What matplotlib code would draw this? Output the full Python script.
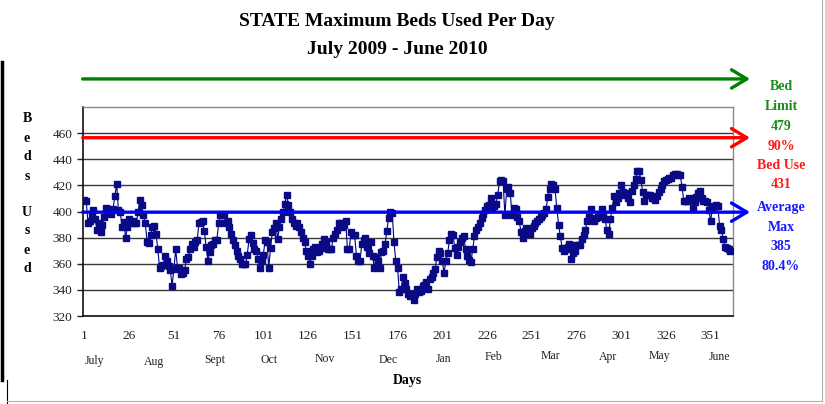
import matplotlib
matplotlib.use("Agg")
import matplotlib.pyplot as plt
import numpy as np

plt.rcParams['font.family'] = ['Liberation Serif', 'DejaVu Serif']

# max beds used, one value per day starting July 1 2009
beds_used = [
    409, 408, 391, 393, 398, 401, 394, 386, 391, 384,
    390, 396, 403, 402, 401, 398, 402, 412, 421, 401,
    400, 388, 392, 380, 388, 394, 391, 393, 391, 391,
    400, 409, 405, 397, 391, 377, 376, 382, 388, 389,
    383, 371, 357, 358, 359, 366, 362, 358, 355, 343,
    356, 371, 357, 357, 352, 353, 355, 364, 365, 371,
    375, 373, 377, 378, 391, 392, 393, 385, 373, 362,
    369, 374, 375, 378, 378, 391, 397, 397, 397, 391,
    393, 388, 383, 378, 374, 370, 366, 364, 360, 360,
    360, 367, 379, 382, 376, 371, 370, 364, 357, 362,
    367, 378, 377, 357, 372, 384, 387, 391, 379, 388,
    394, 400, 406, 413, 405, 400, 394, 391, 389, 391,
    388, 384, 380, 377, 370, 366, 360, 366, 371, 373,
    369, 370, 372, 375, 379, 377, 371, 371, 371, 380,
    383, 386, 391, 391, 388, 390, 393, 371, 371, 384,
    382, 382, 366, 362, 362, 375, 378, 380, 373, 368,
    377, 366, 357, 365, 362, 357, 369, 370, 375, 385,
    395, 400, 399, 377, 362, 357, 338, 341, 350, 345,
    341, 337, 335, 337, 332, 337, 341, 338, 339, 343,
    344, 346, 341, 348, 350, 353, 356, 365, 370, 368,
    362, 353, 362, 368, 378, 383, 382, 372, 367, 373,
    377, 380, 381, 371, 366, 363, 361, 371, 381, 386,
    388, 391, 395, 398, 401, 404, 405, 410, 403, 404,
    406, 413, 423, 424, 423, 397, 417, 419, 414, 397,
    403, 402, 396, 393, 384, 380, 385, 387, 386, 383,
    387, 389, 391, 393, 394, 396, 397, 399, 402, 411,
    417, 421, 420, 417, 403, 390, 381, 372, 370, 371,
    373, 375, 364, 368, 370, 374, 374, 374, 379, 382,
    386, 393, 396, 402, 394, 393, 395, 396, 397, 402,
    398, 394, 386, 383, 394, 403, 412, 407, 410, 414,
    420, 415, 413, 414, 410, 407, 416, 420, 425, 431,
    431, 424, 415, 408, 413, 413, 413, 410, 410, 409,
    412, 415, 417, 420, 423, 424, 425, 426, 426, 428,
    429, 429, 428, 428, 419, 408, 408, 408, 410, 409,
    403, 407, 411, 414, 416, 410, 408, 408, 407, 401,
    393, 403, 404, 405, 404, 389, 386, 379, 373, 372,
    371, 370,
]
days = np.arange(1, len(beds_used) + 1)

day_ticks = list(range(1, 352, 25))
months = ['July', 'Aug', 'Sept', 'Oct', 'Nov', 'Dec',
          'Jan', 'Feb', 'Mar', 'Apr', 'May', 'June']
month_days = [6.8, 39.7, 73.6, 104, 135.3, 170.8,
              201.8, 229.8, 261.6, 293.5, 322.6, 356]
month_y = [-0.215, -0.22, -0.21, -0.21, -0.205, -0.21,
           -0.205, -0.195, -0.19, -0.195, -0.19, -0.195]

# reference arrows (bed limit, 90% bed use, average max) as drawn
ref_levels = [501.5, 456.5, 399.5]
ref_colors = ['#008000', '#ff0000', '#0000ff']

side_text = [('Bed', '#1a8c1a'), ('Limit', '#1a8c1a'), ('479', '#1a8c1a'),
             ('90%', '#ff1a1a'), ('Bed Use', '#ff1a1a'), ('431', '#ff1a1a'),
             ('Average', '#1a1aff'), ('Max', '#1a1aff'), ('385', '#1a1aff'),
             ('80.4%', '#1a1aff')]
side_y = [87, 106, 126, 146, 166, 185, 207, 227, 246, 266]

fig = plt.figure(figsize=(8.25, 4.04), dpi=100)
ax = fig.add_axes([0.1002, 0.2178, 0.7883, 0.5173])

ax.plot(days, beds_used, color='#000080', lw=0.8, marker='s', ms=4.2,
        mfc='#0a0a85', mec='#0a0a85', zorder=3)

ax.set_xlim(0, 363.5)
ax.set_ylim(320, 480)
ax.set_yticks(range(320, 461, 20))
ax.set_xticks(day_ticks)
ax.set_xticklabels([str(d) for d in day_ticks])
ax.tick_params(axis='x', length=0, pad=10, labelsize=9.5, colors='#222222')
ax.tick_params(axis='y', length=4.5, width=1, pad=3, labelsize=9.5,
               colors='#222222')
ax.yaxis.grid(True, color='#3a3a3a', lw=1)
ax.set_axisbelow(True)
for s in ['left', 'bottom']:
    ax.spines[s].set_color('#111111')
    ax.spines[s].set_linewidth(1.2)
for s in ['top', 'right']:
    ax.spines[s].set_color('#8a8a8a')
    ax.spines[s].set_linewidth(1)

for m, d, yy in zip(months, month_days, month_y):
    ax.text(d, yy, m, transform=ax.get_xaxis_transform(), ha='center',
            va='center', fontsize=8.5, color='#222222')
ax.text(0.5, -0.31, 'Days', transform=ax.transAxes, ha='center', va='center',
        fontsize=10, fontweight='bold')

for lvl, c in zip(ref_levels, ref_colors):
    ax.annotate('', xy=(373, lvl), xytext=(0, lvl),
                arrowprops=dict(arrowstyle='->,head_length=0.55,head_width=0.33',
                                color=c, lw=2.4, mutation_scale=20,
                                shrinkA=0, shrinkB=0),
                annotation_clip=False, zorder=4)

for (t, c), yy in zip(side_text, side_y):
    fig.text(781 / 825, 1 - yy / 404, t, color=c, ha='center', va='center',
             fontsize=10, fontweight='bold')

fig.text(397 / 825, 1 - 22 / 404, 'STATE Maximum Beds Used Per Day',
         ha='center', va='center', fontsize=14, fontweight='bold')
fig.text(397 / 825, 1 - 50 / 404, 'July 2009 - June 2010',
         ha='center', va='center', fontsize=14, fontweight='bold')

ylab = ['B', 'e', 'd', 's', 'U', 's', 'e', 'd']
ylab_y = [119, 138, 157, 177, 212, 231, 250, 269]
for t, yy in zip(ylab, ylab_y):
    fig.text(27 / 825, 1 - yy / 404, t, ha='center', va='center',
             fontsize=10, fontweight='bold')

# outer frame pieces of the original chart box
fig.add_artist(plt.Line2D([2 / 825, 2 / 825], [1 - 62 / 404, 1 - 380 / 404],
                          transform=fig.transFigure, color='black', lw=2.5))
fig.add_artist(plt.Line2D([7 / 825, 7 / 825], [1 - 380 / 404, 0],
                          transform=fig.transFigure, color='black', lw=0.8))
fig.add_artist(plt.Line2D([822 / 825, 822 / 825], [1, 1 - 401 / 404],
                          transform=fig.transFigure, color='#b0b0b0', lw=0.8))
fig.add_artist(plt.Line2D([7 / 825, 822 / 825], [1 - 401 / 404, 1 - 401 / 404],
                          transform=fig.transFigure, color='#b0b0b0', lw=0.8))

fig.savefig('out.png', dpi=100)
